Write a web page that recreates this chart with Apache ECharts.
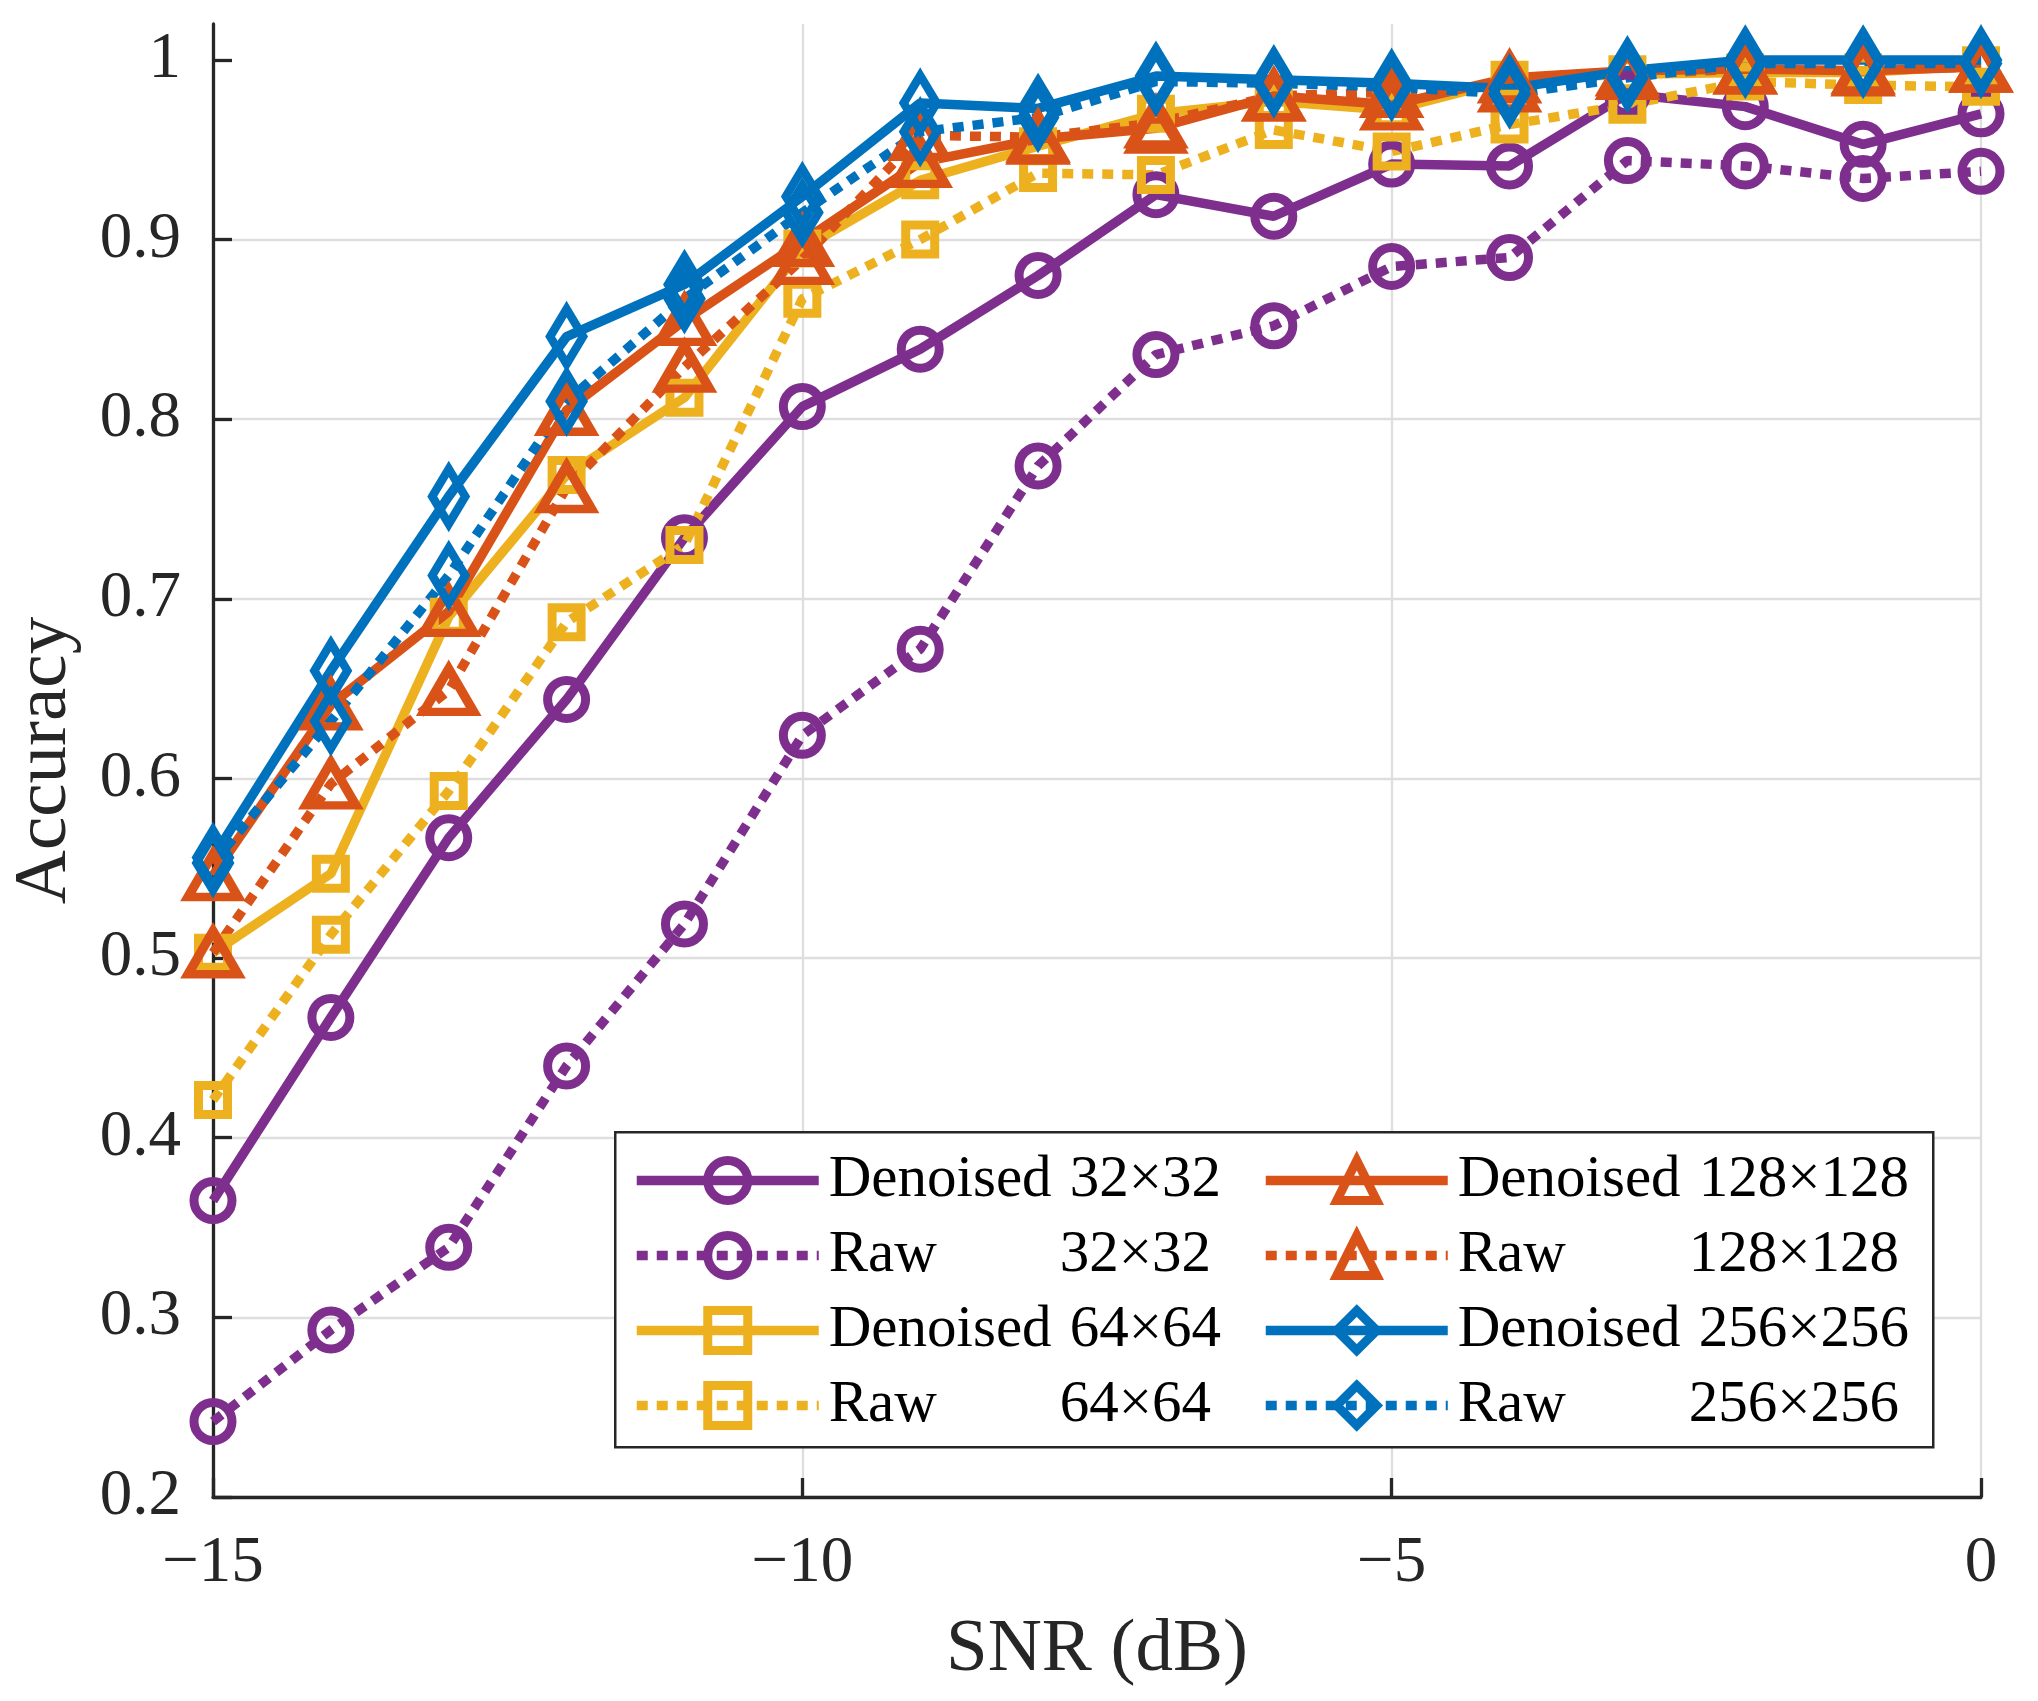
<!DOCTYPE html>
<html>
<head>
<meta charset="utf-8">
<script src="https://cdn.jsdelivr.net/npm/echarts@6/dist/echarts.min.js"></script>
<style>
html, body { margin: 0; padding: 0; background: #fff; }
#chart { width: 2038px; height: 1701px; }
</style>
</head>
<body>
<div id="chart"></div>
<script>
// x values (SNR in dB) and y tick labels
var snr = [-15, -14, -13, -12, -11, -10, -9, -8, -7, -6, -5, -4, -3, -2, -1, 0];
var yTicks = [0.2, 0.3, 0.4, 0.5, 0.6, 0.7, 0.8, 0.9, 1];

var names = ['Denoised 32×32', 'Raw 32×32', 'Denoised 64×64', 'Raw 64×64',
             'Denoised 128×128', 'Raw 128×128', 'Denoised 256×256', 'Raw 256×256'];

// accuracy
var denoised32  = [0.365, 0.467, 0.567, 0.644, 0.734, 0.807, 0.839, 0.880, 0.925, 0.913, 0.942, 0.941, 0.981, 0.974, 0.953, 0.970];
var raw32       = [0.242, 0.293, 0.339, 0.440, 0.519, 0.624, 0.672, 0.774, 0.836, 0.852, 0.885, 0.890, 0.944, 0.941, 0.934, 0.938];
var denoised64  = [0.503, 0.547, 0.690, 0.769, 0.812, 0.895, 0.933, 0.952, 0.970, 0.977, 0.972, 0.989, 0.992, 0.993, 0.993, 0.997];
var raw64       = [0.421, 0.513, 0.593, 0.687, 0.730, 0.867, 0.900, 0.937, 0.936, 0.961, 0.949, 0.964, 0.975, 0.988, 0.986, 0.985];
var denoised128 = [0.546, 0.641, 0.693, 0.805, 0.855, 0.899, 0.943, 0.956, 0.962, 0.980, 0.975, 0.990, 0.994, 0.995, 0.994, 0.996];
var raw128      = [0.503, 0.597, 0.649, 0.762, 0.829, 0.889, 0.958, 0.957, 0.965, 0.980, 0.982, 0.985, 0.992, 0.995, 0.995, 0.996];
var denoised256 = [0.556, 0.660, 0.757, 0.846, 0.875, 0.924, 0.976, 0.973, 0.991, 0.989, 0.987, 0.984, 0.994, 1.000, 1.000, 1.000];
var raw256      = [0.553, 0.632, 0.713, 0.810, 0.867, 0.915, 0.960, 0.968, 0.988, 0.987, 0.985, 0.981, 0.990, 0.998, 0.998, 0.998];

var allValues = [denoised32, raw32, denoised64, raw64, denoised128, raw128, denoised256, raw256];

var font = "'Liberation Serif', 'Times New Roman', serif";
var colors = ['#7E2F8E', '#EDB120', '#D95319', '#0072BD'];
var symbols = ['circle', 'rect', 'triangle', 'diamond'];
var symbolSizes = [38, 29, [50, 43], [33, 55]];

var chart = echarts.init(document.getElementById('chart'));

var series = allValues.map(function (vals, i) {
    var g = Math.floor(i / 2);
    var dotted = i % 2 === 1;
    return {
        type: 'line',
        name: names[i],
        data: snr.map(function (x, k) { return [x, vals[k]]; }),
        symbol: symbols[g],
        symbolSize: symbolSizes[g],
        showSymbol: true,
        clip: false,
        lineStyle: { color: colors[g], width: 9.5, type: dotted ? [11, 9] : 'solid', cap: 'butt' },
        itemStyle: { color: 'rgba(0,0,0,0)', borderColor: colors[g], borderWidth: 9 },
        emphasis: { disabled: true }
    };
});

function legendFor(col, left) {
    return {
        data: names.slice(col * 4, col * 4 + 4),
        orient: 'vertical',
        left: left,
        top: 1151,
        padding: 0,
        itemWidth: 182,
        itemHeight: 50,
        itemGap: 16,
        selectedMode: false,
        itemStyle: { borderWidth: 9 },
        lineStyle: { width: 9.5 },
        textStyle: {
            fontFamily: font, fontSize: 59, color: '#000',
            rich: {
                d: { fontFamily: font, fontSize: 59, color: '#000', width: 241, padding: [0, 0, 0, 5] },
                r: { fontFamily: font, fontSize: 59, color: '#000', width: 231, padding: [0, 0, 0, 5] },
                n: { fontFamily: font, fontSize: 59, color: '#000' }
            }
        },
        formatter: function (name) {
            var parts = name.split(' ');
            var key = parts[0] === 'Raw' ? 'r' : 'd';
            return '{' + key + '|' + parts[0] + '}{n|' + parts[1] + '}';
        }
    };
}

var option = {
    backgroundColor: '#fff',
    animation: false,
    grid: { left: 206, right: 57, top: 24, bottom: 204, containLabel: false },
    xAxis: {
        type: 'value',
        min: -15, max: 0, interval: 5,
        name: 'SNR (dB)',
        nameLocation: 'middle',
        nameGap: 116,
        nameTextStyle: { fontFamily: font, fontSize: 75, color: '#262626' },
        axisLine: { show: true, onZero: false, lineStyle: { color: '#262626', width: 3.3 } },
        axisTick: { show: true, inside: true, length: 19, lineStyle: { color: '#262626', width: 3.3 } },
        axisLabel: {
            fontFamily: font, fontSize: 65, color: '#262626', margin: 34,
            formatter: function (v) { return String(v).replace('-', '\u2212'); }
        },
        splitLine: { show: true, lineStyle: { color: '#dedede', width: 2.3 } }
    },
    yAxis: {
        type: 'value',
        min: 0.2, max: 1.02, interval: 0.1,
        name: 'Accuracy',
        nameLocation: 'middle',
        nameGap: 130,
        nameTextStyle: { fontFamily: font, fontSize: 75, color: '#262626' },
        axisLine: { show: true, onZero: false, lineStyle: { color: '#262626', width: 3.3 } },
        axisTick: { show: true, inside: true, length: 19, customValues: yTicks, lineStyle: { color: '#262626', width: 3.3 } },
        axisLabel: {
            fontFamily: font, fontSize: 65, color: '#262626', margin: 32,
            customValues: yTicks,
            formatter: function (v) { return String(+v.toFixed(2)); }
        },
        splitLine: { show: true, showMaxLine: false, lineStyle: { color: '#dedede', width: 2.3 } }
    },
    graphic: [{
        type: 'rect',
        left: 614, top: 1131,
        z: 3,
        shape: { width: 1318, height: 315 },
        style: { fill: '#fff', stroke: '#262626', lineWidth: 2.5 }
    }],
    legend: [legendFor(0, 632), legendFor(1, 1261)],
    series: series
};

chart.setOption(option);
</script>
</body>
</html>
